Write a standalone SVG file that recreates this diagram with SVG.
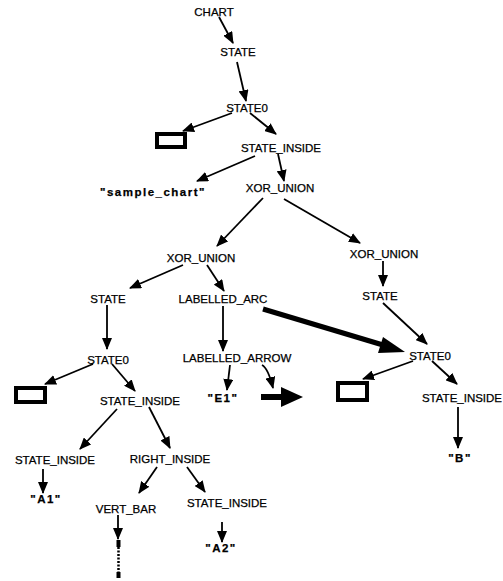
<svg xmlns="http://www.w3.org/2000/svg" width="503" height="581" viewBox="0 0 503 581">
<defs>
<style>
text{font-family:"Liberation Sans",Arial,sans-serif;font-size:11.5px;fill:#000;stroke:#000;stroke-width:0.25;text-anchor:middle}
.q{font-weight:bold;letter-spacing:1.5px}
.e{stroke:#000;stroke-width:1.8;fill:none;marker-end:url(#ah)}
.box{fill:#fff;stroke:#000;stroke-width:4}
</style>
<marker id="ah" viewBox="0 0 12 10" refX="11" refY="5" markerWidth="12" markerHeight="10" markerUnits="userSpaceOnUse" orient="auto">
<path d="M0,0 L12,5 L0,10 z" fill="#000"/>
</marker>
</defs>
<rect width="503" height="581" fill="#fff"/>
<g id="connectors">
<path class="e" d="M219,17 L233,43"/>
<path class="e" d="M237,62 L246,101"/>
<path class="e" d="M232,113 L183,131"/>
<path class="e" d="M250,113 L276,134"/>
<path class="e" d="M255,156 L197,181"/>
<path class="e" d="M278,154 L284,181"/>
<path class="e" d="M263,198 L217,246"/>
<path class="e" d="M284,199 L360,243"/>
<path class="e" d="M183,265 L130,288"/>
<path class="e" d="M207,265 L224,291"/>
<path class="e" d="M383,261 L383,286"/>
<path class="e" d="M107,305 L107,349"/>
<path class="e" d="M223,306 L223,351"/>
<path class="e" d="M383,303 L427,344"/>
<path d="M263,309 L383,345" stroke="#000" stroke-width="5" fill="none"/>
<polygon points="405,352 378,353 383,337" fill="#000"/>
<path class="e" d="M93,364 L45,384"/>
<path class="e" d="M112,364 L135,391"/>
<path class="e" d="M230,365 L227,390"/>
<path class="e" d="M262,365 Q268,368 273,388"/>
<path class="e" d="M413,361 L363,379"/>
<path class="e" d="M432,361 L457,384"/>
<path class="e" d="M458,407 L458,448"/>
<path class="e" d="M117,409 L80,449"/>
<path class="e" d="M149,407 L170,448"/>
<path class="e" d="M43,469 L43,493"/>
<path class="e" d="M157,467 L139,493"/>
<path class="e" d="M187,467 L205,492"/>
<path class="e" d="M118,515 L118,539"/>
<path class="e" d="M222,522 L222,542"/>
</g>
<g id="n-chart"><text x="214" y="16">CHART</text></g>
<g id="n-state1"><text x="238" y="56">STATE</text></g>
<g id="n-state0-1"><text x="247" y="112">STATE0</text></g>
<g id="n-box1"><rect class="box" x="157" y="134" width="28" height="13"/></g>
<g id="n-si1"><text x="281" y="152">STATE_INSIDE</text></g>
<g id="n-sample"><text class="q" x="153" y="196">"sample_chart"</text></g>
<g id="n-xor1"><text x="280" y="192">XOR_UNION</text></g>
<g id="n-xor2"><text x="201" y="262">XOR_UNION</text></g>
<g id="n-xor3"><text x="384" y="258">XOR_UNION</text></g>
<g id="n-state2"><text x="108" y="303">STATE</text></g>
<g id="n-larc"><text x="223" y="303">LABELLED_ARC</text></g>
<g id="n-state3"><text x="380" y="300">STATE</text></g>
<g id="n-state0-2"><text x="108" y="364">STATE0</text></g>
<g id="n-larrow"><text x="237" y="362">LABELLED_ARROW</text></g>
<g id="n-state0-3"><text x="430" y="360">STATE0</text></g>
<g id="n-box2"><rect class="box" x="16" y="388" width="29" height="14"/></g>
<g id="n-si2"><text x="140" y="405">STATE_INSIDE</text></g>
<g id="n-e1"><text class="q" x="223" y="402">"E1"</text></g>
<g id="n-thickarrow">
<rect x="261" y="394" width="22" height="6" fill="#000"/>
<polygon points="281,387 303,397 281,407" fill="#000"/>
</g>
<g id="n-box3"><rect class="box" x="338" y="383" width="29" height="17"/></g>
<g id="n-si3"><text x="462" y="402">STATE_INSIDE</text></g>
<g id="n-b"><text class="q" x="460" y="462">"B"</text></g>
<g id="n-si4"><text x="55" y="464">STATE_INSIDE</text></g>
<g id="n-right"><text x="170" y="463">RIGHT_INSIDE</text></g>
<g id="n-a1"><text class="q" x="46" y="503">"A1"</text></g>
<g id="n-vbar"><text x="126" y="513">VERT_BAR</text></g>
<g id="n-si5"><text x="227" y="507">STATE_INSIDE</text></g>
<g id="n-a2"><text class="q" x="221" y="552">"A2"</text></g>
<g id="n-dash">
<rect x="116.5" y="540" width="4" height="7" fill="#000"/>
<path d="M118.5,547 L118.5,572" stroke="#000" stroke-width="2.5" stroke-dasharray="2,1.5"/>
<rect x="116.5" y="572" width="4" height="6" fill="#000"/>
</g>
</svg>
